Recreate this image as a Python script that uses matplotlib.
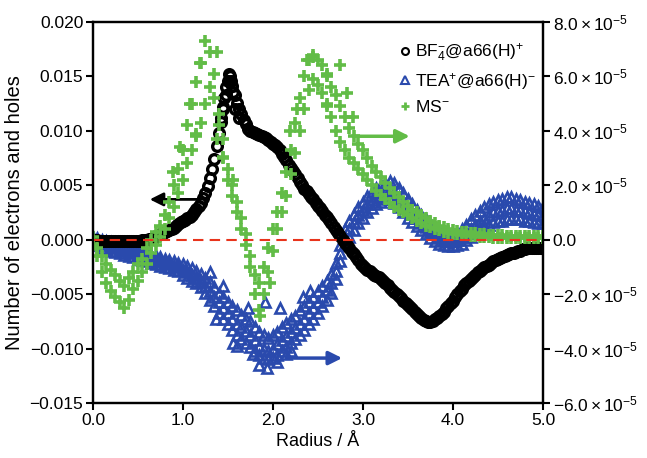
import numpy as np
import matplotlib
matplotlib.use("Agg")
import matplotlib.pyplot as plt
from matplotlib.ticker import FuncFormatter, MultipleLocator
from matplotlib.lines import Line2D

plt.rcParams.update({
    "font.family": ["Liberation Sans", "DejaVu Sans"],
    "mathtext.fontset": "custom",
    "mathtext.rm": "Liberation Sans",
    "mathtext.it": "Liberation Sans:italic",
    "font.size": 12.5,
    "axes.linewidth": 1.6,
})
BLACK, BLUE, GREEN, RED = "#000000", "#2a4aad", "#62bc47", "#e8341c"

# radius grids (Angstrom)
r_fine = np.linspace(0.0, 5.0, 201)    # 0.025 A spacing
r_coarse = np.linspace(0.0, 5.0, 101)  # 0.05 A spacing

# BF4-@a66(H)+  (left axis)
bf4 = [
    0.0000, 0.0000, 0.0000, -0.0001, -0.0001, -0.0001, -0.0001, -0.0001, -0.0001, -0.0001,
    -0.0001, -0.0001, -0.0001, -0.0001, -0.0001, -0.0001, -0.0001, -0.0001, -0.0001, -0.0001,
    -0.0001, -0.0001, 0.0000, 0.0000,
    0.0000, 0.0001, 0.0001, 0.0002, 0.0003, 0.0004, 0.0005, 0.0006, 0.0007, 0.0008,
    0.0009, 0.0010, 0.0011, 0.0013, 0.0014, 0.0016, 0.0017, 0.0018, 0.0020, 0.0021,
    0.0023, 0.0025, 0.0028, 0.0031, 0.0034, 0.0038, 0.0043, 0.0049, 0.0057, 0.0065,
    0.0074, 0.0086, 0.0098, 0.0108, 0.0120, 0.0133, 0.0146, 0.0150, 0.0141, 0.0133,
    0.0126, 0.0120, 0.0115, 0.0110, 0.0106, 0.0102, 0.0100, 0.0099, 0.0098, 0.0097,
    0.0096, 0.0095, 0.0094, 0.0093, 0.0092, 0.0090, 0.0088, 0.0087, 0.0085, 0.0082,
    0.0079, 0.0076, 0.0073, 0.0069, 0.0066, 0.0063, 0.0060, 0.0057, 0.0053, 0.0050,
    0.0047, 0.0045, 0.0042, 0.0039, 0.0037, 0.0034, 0.0031, 0.0029, 0.0026, 0.0023,
    0.0021, 0.0018, 0.0015, 0.0012, 0.0009, 0.0006, 0.0003, 0.0000, -0.0003, -0.0005,
    -0.0008, -0.0011, -0.0013, -0.0016, -0.0019, -0.0022, -0.0024, -0.0026, -0.0028, -0.0029,
    -0.0031, -0.0032, -0.0033, -0.0034, -0.0036, -0.0038, -0.0040, -0.0042, -0.0044, -0.0046,
    -0.0048, -0.0050, -0.0052, -0.0054, -0.0056, -0.0058, -0.0060, -0.0062, -0.0064, -0.0066,
    -0.0068, -0.0070, -0.0072, -0.0074, -0.0075, -0.0076, -0.0076, -0.0075, -0.0073, -0.0072,
    -0.0070, -0.0068, -0.0066, -0.0063, -0.0061, -0.0058, -0.0056, -0.0053, -0.0050, -0.0047,
    -0.0045, -0.0042, -0.0040, -0.0038, -0.0036, -0.0034, -0.0032, -0.0030, -0.0029, -0.0027,
    -0.0025, -0.0024, -0.0023, -0.0021, -0.0020, -0.0019, -0.0018, -0.0017, -0.0016, -0.0015,
    -0.0014, -0.0013, -0.0012, -0.0012, -0.0011, -0.0010, -0.0010, -0.0009, -0.0009, -0.0008,
    -0.0008, -0.0008, -0.0008, -0.0008, -0.0008, -0.0008, -0.0008,
]
bf4_extra_r = [1.42, 1.44, 1.46, 1.48, 1.51, 1.53, 1.56, 1.58, 1.62]
bf4_extra_v = [0.0112, 0.0122, 0.0130, 0.0140, 0.0152, 0.0146, 0.0136, 0.0120, 0.0112]

# TEA+@a66(H)-  (right axis, units of 1e-5)
tea_mid = [
    0.0, -0.08, -0.15, -0.2, -0.25, -0.3, -0.35, -0.4, -0.45, -0.5,
    -0.55, -0.6, -0.65, -0.7, -0.75, -0.8, -0.85, -0.9, -0.95, -1.0,
    -1.1, -1.2, -1.3, -1.4, -1.5, -1.7, -1.9, -2.1, -2.3, -2.5,
    -2.7, -2.9, -3.1, -3.2, -3.35, -3.5, -3.7, -3.9, -4.0, -4.1,
    -4.0, -3.85, -3.7, -3.55, -3.4, -3.25, -3.1, -2.9, -2.7, -2.5,
    -2.3, -2.1, -1.85, -1.6, -1.15, -0.5, 0.1, 0.4, 0.65, 0.9,
    1.1, 1.3, 1.45, 1.6, 1.7, 1.8, 1.85, 1.75, 1.55, 1.35,
    1.15, 0.95, 0.8, 0.6, 0.45, 0.3, 0.2, 0.1, 0.0, -0.05,
    -0.05, 0.0, 0.1, 0.25, 0.4, 0.55, 0.7, 0.8, 0.9, 1.0,
    1.05, 1.1, 1.15, 1.15, 1.1, 1.1, 1.05, 1.0, 0.95, 0.9,
    0.9,
]
tea_hi = [
    0.1, 0.05, 0.0, -0.05, -0.1, -0.15, -0.2, -0.25, -0.3, -0.35,
    -0.4, -0.45, -0.5, -0.55, -0.6, -0.65, -0.7, -0.75, -0.8, -0.85,
    -0.9, -0.95, -1.05, -1.15, -1.25, -1.4, -1.55, -1.75, -1.95, -2.1,
    -2.3, -2.45, -2.6, -2.75, -2.9, -3.0, -3.2, -3.4, -3.5, -3.6,
    -3.5, -3.4, -3.2, -3.05, -2.9, -2.8, -2.6, -2.45, -2.3, -2.1,
    -1.9, -1.7, -1.5, -1.25, -0.85, -0.2, 0.4, 0.7, 0.95, 1.2,
    1.4, 1.6, 1.75, 1.9, 2.0, 2.1, 2.15, 2.1, 1.9, 1.7,
    1.5, 1.3, 1.1, 0.9, 0.75, 0.6, 0.45, 0.35, 0.25, 0.2,
    0.2, 0.25, 0.4, 0.55, 0.75, 0.9, 1.05, 1.2, 1.3, 1.4,
    1.45, 1.5, 1.55, 1.55, 1.5, 1.45, 1.4, 1.35, 1.3, 1.25,
    1.2,
]
tea_lo = [
    -0.1, -0.2, -0.3, -0.35, -0.4, -0.45, -0.5, -0.55, -0.6, -0.65,
    -0.7, -0.75, -0.8, -0.85, -0.9, -0.95, -1.0, -1.05, -1.1, -1.15,
    -1.3, -1.4, -1.5, -1.6, -1.75, -1.95, -2.2, -2.45, -2.7, -2.9,
    -3.1, -3.3, -3.5, -3.65, -3.8, -3.95, -4.1, -4.25, -4.35, -4.4,
    -4.35, -4.25, -4.1, -3.95, -3.8, -3.65, -3.5, -3.3, -3.1, -2.9,
    -2.7, -2.45, -2.2, -1.95, -1.45, -0.8, -0.2, 0.1, 0.35, 0.6,
    0.8, 1.0, 1.15, 1.3, 1.4, 1.5, 1.5, 1.35, 1.2, 1.0,
    0.8, 0.65, 0.5, 0.35, 0.2, 0.05, -0.05, -0.15, -0.2, -0.25,
    -0.25, -0.2, -0.15, 0.0, 0.1, 0.25, 0.4, 0.5, 0.55, 0.65,
    0.7, 0.7, 0.75, 0.75, 0.75, 0.75, 0.7, 0.7, 0.65, 0.6,
    0.6,
]
tea_extra_r = [1.30, 1.45, 1.72, 1.91, 2.08, 2.33, 2.41, 1.93, 1.60, 1.85, 2.05, 2.20,
               1.37, 1.56, 1.78, 2.15]
tea_extra_v = [-1.2, -1.7, -2.5, -2.3, -2.5, -2.1, -1.9, -4.7, -3.9, -4.6, -4.5, -4.1,
               -2.9, -3.8, -4.2, -4.2]

# MS-  (right axis, units of 1e-5)
ms_a = [
    0.1, -0.3, -0.6, -0.9, -1.1, -1.3, -1.5, -1.7, -1.4, -1.2,
    -0.9, -0.7, -0.3, 0.0, 0.3, 0.5, 0.9, 1.4, 2.0, 2.6,
    3.3, 4.2, 5.0, 5.8, 6.5, 7.3, 6.9, 6.1, 4.6, 3.7,
    2.6, 2.0, 1.4, 0.8, 0.2, -0.6, -1.3, -1.6, -1.0, -0.3,
    0.4, 1.0, 1.7, 2.5, 3.3, 4.3, 5.2, 6.0, 6.6, 6.8,
    6.6, 6.4, 6.0, 5.6, 5.3, 4.9, 4.5, 4.1, 3.8, 3.5,
    3.3, 3.0, 2.7, 2.5, 2.3, 2.1, 1.9, 1.7, 1.55, 1.4,
    1.25, 1.1, 1.0, 0.9, 0.8, 0.7, 0.6, 0.52, 0.45, 0.4,
    0.35, 0.32, 0.3, 0.27, 0.25, 0.23, 0.22, 0.2, 0.19, 0.18,
    0.17, 0.16, 0.15, 0.15, 0.14, 0.14, 0.13, 0.13, 0.12, 0.12,
    0.12,
]
ms_b = [
    -0.2, -0.6, -1.2, -1.6, -1.9, -2.1, -2.3, -2.5, -2.2, -1.8,
    -1.5, -1.2, -0.9, -0.5, -0.2, 0.1, 0.4, 0.8, 1.2, 1.7,
    2.2, 2.8, 3.3, 3.8, 4.3, 5.0, 5.6, 5.2, 4.2, 3.0,
    2.2, 1.6, 1.0, 0.4, -0.2, -1.0, -2.0, -2.6, -2.0, -1.2,
    -0.4, 0.4, 1.0, 1.6, 2.4, 3.2, 4.0, 4.8, 5.5, 5.9,
    5.7, 5.4, 5.0, 4.5, 4.0, 3.6, 3.3, 3.0, 2.8, 2.6,
    2.4, 2.2, 2.0, 1.8, 1.65, 1.5, 1.35, 1.2, 1.1, 1.0,
    0.9, 0.8, 0.7, 0.6, 0.52, 0.45, 0.4, 0.34, 0.3, 0.26,
    0.22, 0.2, 0.18, 0.16, 0.14, 0.12, 0.11, 0.1, 0.09, 0.08,
    0.08, 0.07, 0.07, 0.06, 0.06, 0.06, 0.05, 0.05, 0.05, 0.05,
    0.05,
]
ms_extra_r = [1.38, 1.19, 1.08, 0.97, 0.89, 1.15, 1.38, 1.45, 1.56, 2.38, 2.45,
              2.6, 2.74, 2.82, 2.6, 2.89, 2.27, 2.19, 1.86, 1.97]
ms_extra_v = [6.9, 6.5, 5.0, 3.4, 2.5, 3.9, 3.7, 3.05, 2.2, 6.6, 6.7,
              6.1, 6.4, 5.4, 4.9, 4.5, 4.8, 4.0, -2.8, -1.6]

fig = plt.figure(figsize=(6.47, 4.58), dpi=100)
ax = fig.add_axes([0.1437, 0.1201, 0.6955, 0.832])
ax_b = ax.twinx()   # TEA layer, below the BF4 circles
ax2 = ax.twinx()    # visible right axis, MS on top
ax_b.set_zorder(0); ax.set_zorder(1); ax2.set_zorder(2)
for a in (ax, ax_b, ax2):
    a.patch.set_visible(False)

tri = dict(linestyle="none", marker="^", ms=7.5, mfc="none", mec=BLUE, mew=1.9)
for vals in (tea_hi, tea_mid, tea_lo):
    ax_b.plot(r_coarse, vals, **tri)
ax_b.plot(tea_extra_r, tea_extra_v, **tri)
ax_b.set_ylim(-6, 8)
ax_b.axis("off")

circ = dict(linestyle="none", marker="o", ms=7.0, mfc="none", mec=BLACK, mew=2.4)
ax.plot(r_fine, bf4, **circ)
ax.plot(bf4_extra_r, bf4_extra_v, **circ)

plus = dict(linestyle="none", marker="+", ms=8.5, mec=GREEN, mew=2.6)
ax2.plot(r_coarse, ms_a, **plus)
ax2.plot(r_coarse, ms_b, **plus)
ax2.plot(ms_extra_r, ms_extra_v, **plus)
ax2.axhline(0, color=RED, lw=1.5, ls=(0, (5, 3)))

# direction arrows
ax.annotate("", xy=(0.6, 0.0037), xytext=(1.22, 0.0037),
            arrowprops=dict(arrowstyle="-|>", color=BLACK, lw=2, mutation_scale=20))
ax2.annotate("", xy=(3.55, 3.8), xytext=(2.9, 3.8),
             arrowprops=dict(arrowstyle="-|>", color=GREEN, lw=2.5, mutation_scale=20))
ax2.annotate("", xy=(2.8, -4.35), xytext=(2.12, -4.35),
             arrowprops=dict(arrowstyle="-|>", color=BLUE, lw=2.5, mutation_scale=20))

ax.set_xlim(0, 5)
ax.set_ylim(-0.015, 0.020)
ax2.set_ylim(-6, 8)
ax.xaxis.set_major_locator(MultipleLocator(1.0))
ax.xaxis.set_major_formatter(FuncFormatter(lambda v, p: f"{v:.1f}"))
ax.yaxis.set_major_locator(MultipleLocator(0.005))
ax.yaxis.set_major_formatter(FuncFormatter(lambda v, p: f"{v:.3f}".replace("-", "\u2212")))
ax2.yaxis.set_major_locator(MultipleLocator(2))


def right_fmt(v, p):
    if abs(v) < 1e-9:
        return "0.0"
    return rf"${v:.1f}\times10^{{-5}}$"


ax2.yaxis.set_major_formatter(FuncFormatter(right_fmt))
for a in (ax, ax2):
    a.tick_params(direction="out", length=5, width=1.5, labelsize=12.5, pad=2)
ax.set_xlabel("Radius / Å", fontsize=13)
ax.set_ylabel("Number of electrons and holes", fontsize=14.5, labelpad=4)

handles = [
    Line2D([], [], marker="o", ls="none", ms=5, mfc="none", mec=BLACK, mew=1.5),
    Line2D([], [], marker="^", ls="none", ms=6, mfc="none", mec=BLUE, mew=1.5),
    Line2D([], [], marker="+", ls="none", ms=6, mec=GREEN, mew=2.0),
]
labels = [r"BF$_4^{-}$@a66(H)$^{+}$", r"TEA$^{+}$@a66(H)$^{-}$", r"MS$^{-}$"]
ax2.legend(handles, labels, loc="upper right", bbox_to_anchor=(1.02, 0.99),
           frameon=False, fontsize=12.5, handletextpad=0.2, handlelength=0.8,
           labelspacing=0.4)

fig.savefig("out.png", dpi=100)
